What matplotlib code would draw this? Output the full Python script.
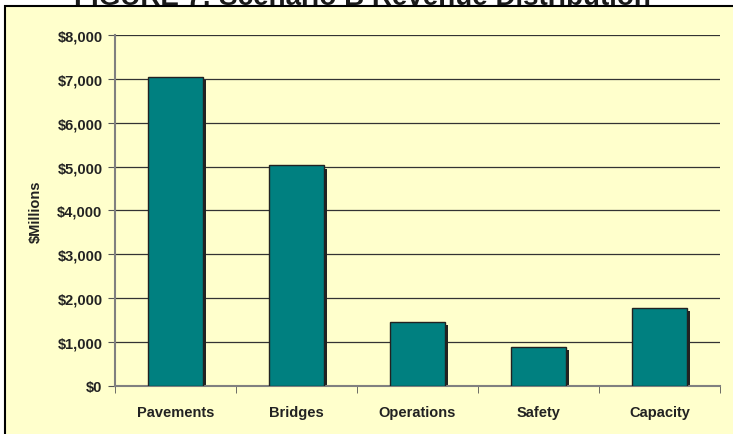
import matplotlib
matplotlib.use("Agg")
import matplotlib.pyplot as plt
from matplotlib.patches import Rectangle
from matplotlib.ticker import FuncFormatter, MultipleLocator

categories = ["Pavements", "Bridges", "Operations", "Safety", "Capacity"]
values = [7050, 5030, 1460, 890, 1780]
title = "FIGURE 7: Scenario B Revenue Distribution"
ylabel = "$Millions"

plt.rcParams['font.family'] = ['Liberation Sans', 'DejaVu Sans']

W, H = 733, 435
fig = plt.figure(figsize=(W/100, H/100), dpi=100)
fig.patch.set_facecolor('white')

bg = '#FFFFCC'
panel = Rectangle((5/W, -0.05), 1.2, 1 - 7/H + 0.05, transform=fig.transFigure,
                  facecolor=bg, edgecolor='black', linewidth=1.5, zorder=-5)
fig.patches.append(panel)

fig.text(362/W, 1 - 5/H, title, ha='center', va='baseline', fontsize=20,
         fontweight='bold', color='#1a1a1a', zorder=5)

left, right = 115/W, 720/W
top, bottom = 1 - 36/H, 1 - 387/H
ax = fig.add_axes([left, bottom, right - left, top - bottom])
ax.set_facecolor(bg)
ax.patch.set_alpha(0)

x = list(range(len(categories)))
bw = 0.45
# shadow
sh_dx = 3.5 / ((720 - 115) / 5)
sh_dy = 3.5 / ((387 - 36) / 8000)
ax.bar([i + sh_dx for i in x], [max(v - sh_dy, 0) for v in values], width=bw,
       color='#222222', edgecolor='none', zorder=2)
ax.bar(x, values, width=bw, color='#008080', edgecolor='#222222',
       linewidth=1.0, zorder=3)

ax.set_xlim(-0.5, len(categories) - 0.5)
ax.set_ylim(0, 8000)
ax.yaxis.set_major_locator(MultipleLocator(1000))
ax.yaxis.set_major_formatter(FuncFormatter(lambda v, p: f"${v:,.0f}"))
ax.set_xticks(x)
ax.set_xticklabels(categories)
ax.set_xticks([i + 0.5 for i in range(-1, len(categories))], minor=True)
ax.tick_params(axis='x', which='major', length=0, pad=14)
ax.tick_params(axis='x', which='minor', length=5, color='#555555', direction='out')
ax.tick_params(axis='y', length=5, color='#555555', direction='out', pad=4)
for lab in ax.get_xticklabels() + ax.get_yticklabels():
    lab.set_fontweight('bold')
    lab.set_fontsize(10.5)
    lab.set_color('#222222')

ax.grid(axis='y', color='#333333', linewidth=0.9, zorder=1)
ax.set_axisbelow(True)
for s in ['top', 'right']:
    ax.spines[s].set_visible(False)
for s in ['left', 'bottom']:
    ax.spines[s].set_color('#808080')
    ax.spines[s].set_linewidth(1.5)

ax.set_ylabel(ylabel, fontsize=10.5, fontweight='bold', color='#222222')
ax.yaxis.set_label_coords(-0.119, 0.5)

fig.savefig('out.png', dpi=100, facecolor=fig.get_facecolor())
